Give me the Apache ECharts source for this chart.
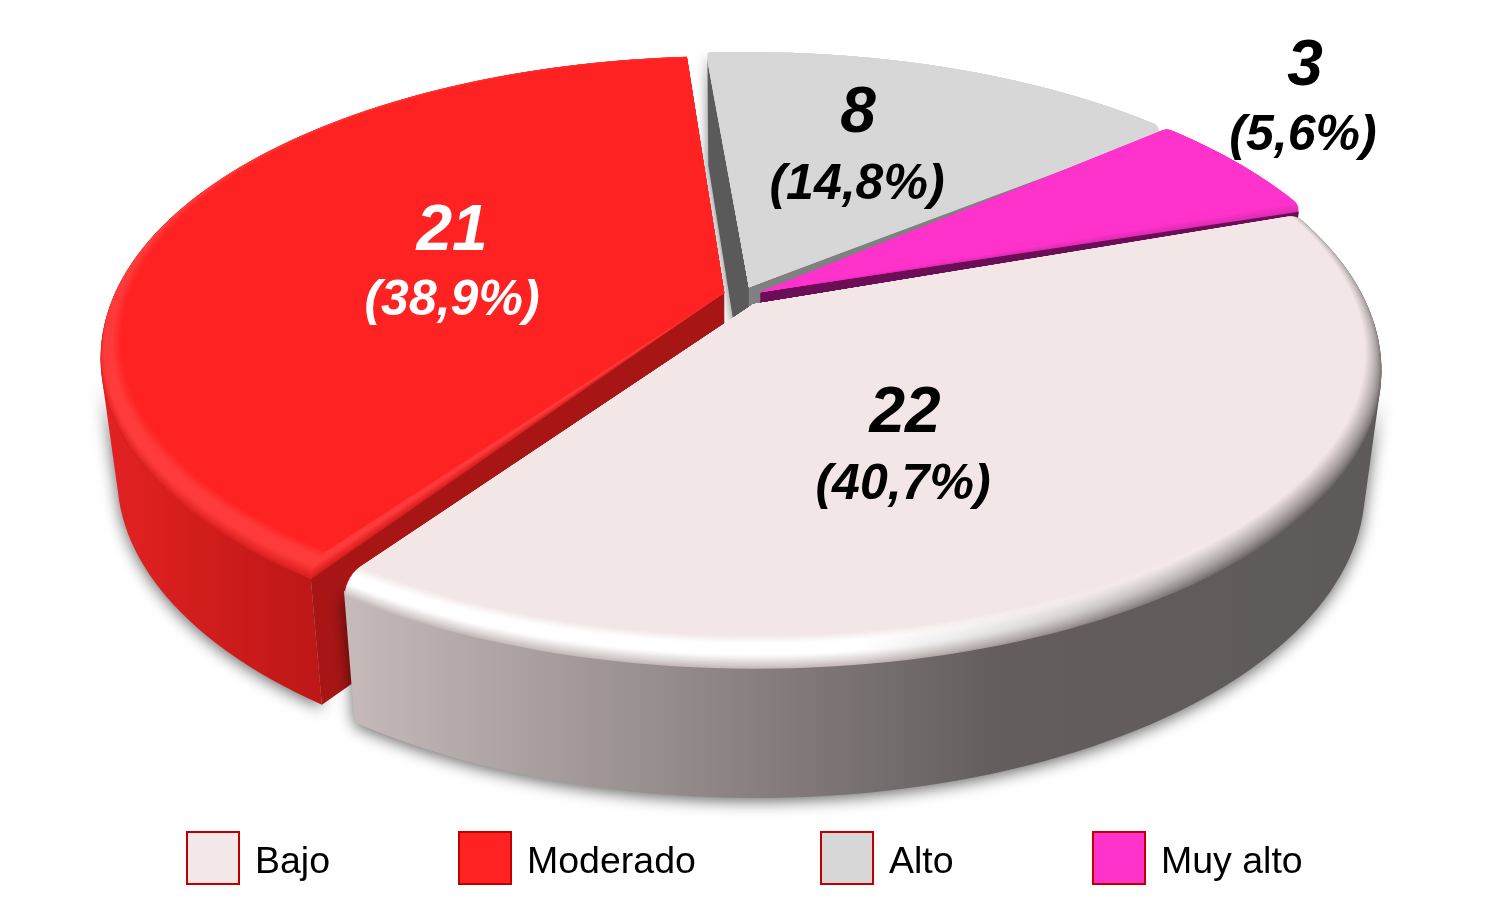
<!DOCTYPE html>
<html><head><meta charset="utf-8">
<style>html,body{margin:0;padding:0;background:#fff}#c{width:1508px;height:905px}</style>
<script src="https://cdn.jsdelivr.net/npm/echarts@6/dist/echarts.min.js"></script>
</head><body><div id="c"></div>
<script>
// ---- data ----
const categories = ['Bajo', 'Moderado', 'Alto', 'Muy alto'];
const counts = [22, 21, 8, 3];
const percents = ['(40,7%)', '(38,9%)', '(14,8%)', '(5,6%)'];

// ---- layout & style ----
const FONT = '"Liberation Sans", Arial, sans-serif';
const view = { cx: 742, cy: 295, A: 617, B: 284, D: 134, k: 0.17, shrink: 0.03, start: 68.9 };
const paint = [
  { z: 4, explode: 0.037, nudge: [-0.004, 0.003], trim: [1.6, 0.7], face: '#f3e6e6', wall: [[345, '#c6baba'], [1000, '#635d5d'], [1380, '#5f5a5a']],
    bevelL: ['#c6baba', '#ffffff'], bevelR: '#5f5a5a', swatch: '#f5e8e8', text: '#000',
    cuts: {}, label: [905, 414, 903, 485] },
  { z: 3, explode: 0.03, nudge: [0, 0], trim: [-0.4, 0], face: '#ff2222', wall: [[100, '#e42222'], [340, '#b91616']],
    bevelL: ['#d81e1e', '#ff3b3b'], bevelR: null, swatch: '#ff2222', text: '#fff',
    cuts: { a0: '#a81515' }, label: [452, 232, 452, 301] },
  { z: 1, explode: 0.03, nudge: [0, 0], trim: [0, 0.5], face: '#d7d7d7', wall: [[700, '#999'], [1160, '#888']],
    bevelL: ['#d7d7d7', '#d7d7d7'], bevelR: null, swatch: '#d7d7d7', text: '#000',
    cuts: { a0: '#5a5a5a', a1: '#808080' }, label: [858, 114, 857, 185] },
  { z: 2, explode: 0.03, nudge: [0.004, 0.006], trim: [0, 0], face: '#ff33cc', wall: [[1160, '#8c1a70'], [1300, '#6a0f55']],
    bevelL: ['#e02cb4', '#ff33cc'], bevelR: null, swatch: '#ff33cc', text: '#000',
    cuts: { a1: '#6a0f55' }, label: [1305, 67, 1303, 136] }
];
const legendSlots = [186, 458, 820, 1092];

const total = counts.reduce((a, b) => a + b, 0);
const spans = [];
let cursor = view.start;
counts.forEach(c => { const s = c / total * 360; spans.push([cursor, cursor + s]); cursor += s; });

function hex(c) {
  let h = c.slice(1);
  if (h.length === 3) h = h.split('').map(x => x + x).join('');
  return [0, 2, 4].map(i => parseInt(h.substr(i, 2), 16));
}
function mix(a, b, t) {
  const x = hex(a), y = hex(b);
  return 'rgb(' + x.map((v, i) => Math.round(v + (y[i] - v) * t)).join(',') + ')';
}
function project(ou, ov, deg, r, z) {
  const th = deg * Math.PI / 180;
  const u = ou + r * Math.sin(th), v = ov - r * Math.cos(th);
  const w = (1 - view.k * v) * (1 + view.shrink * z);
  return [view.cx + view.A * u / w, view.cy + (view.B * v + view.D * z) / w];
}
function arc(ou, ov, a0, a1, r, z) {
  const n = Math.max(8, Math.round((a1 - a0) / 1.5)), out = [];
  for (let i = 0; i <= n; i++) out.push(project(ou, ov, a0 + (a1 - a0) * i / n, r, z));
  return out;
}
function xGrad(stops) {
  const x0 = stops[0][0], x1 = stops[stops.length - 1][0];
  return { type: 'linear', x: x0, y: 0, x2: x1, y2: 0, global: true,
    colorStops: stops.map(s => ({ offset: (s[0] - x0) / (x1 - x0), color: s[1] })) };
}
// outline of the part of the outer wall that faces the viewer
function frontWall(top, bottom) {
  const keepTop = [], keepBottom = [];
  for (let i = 0; i < top.length - 1; i++) {
    const dx = top[i + 1][0] - top[i][0], dy = top[i + 1][1] - top[i][1];
    const gx = bottom[i][0] - top[i][0], gy = bottom[i][1] - top[i][1];
    if (dx * gy - dy * gx < 0) {
      if (!keepTop.length) { keepTop.push(top[i]); keepBottom.push(bottom[i]); }
      keepTop.push(top[i + 1]); keepBottom.push(bottom[i + 1]);
    }
  }
  return keepTop.concat(keepBottom.reverse());
}

function sliceRenderer(idx) {
  return function (params, api) {
    const value = api.value(0);
    const p = paint[idx];
    const a0 = spans[idx][0] + p.trim[0], a1 = spans[idx][1] - p.trim[1];
    const mid = (spans[idx][0] + spans[idx][1]) / 2 * Math.PI / 180;
    const ou = p.explode * Math.sin(mid) + p.nudge[0], ov = -p.explode * Math.cos(mid) + p.nudge[1];
    const R0 = 0.965, ZB = 0.12;
    const kids = [];
    const wallPts = frontWall(arc(ou, ov, a0, a1, 1, ZB * 0.7), arc(ou, ov, a0, a1, 1, 1));
    if (wallPts.length) {
      kids.push({ type: 'polygon', shape: { points: wallPts }, style: {
        fill: xGrad(p.wall), shadowBlur: 16, shadowColor: 'rgba(0,0,0,0.6)', shadowOffsetX: 0, shadowOffsetY: 3 } });
    }
    const apexT = project(ou, ov, 0, 0, 0), apexB = project(ou, ov, 0, 0, 1);
    [['a0', a0], ['a1', a1]].forEach(([key, ang]) => {
      if (!p.cuts[key]) return;
      const pts = [apexT, project(ou, ov, ang, R0, 0), project(ou, ov, ang, 1, ZB), project(ou, ov, ang, 1, 1), apexB];
      kids.push({ type: 'polygon', shape: { points: pts }, style: {
        fill: p.cuts[key], shadowBlur: key === 'a0' && idx === 2 ? 12 : 0, shadowColor: 'rgba(0,0,0,0.55)' } });
    });
    const N = 24;
    for (let i = 0; i <= N; i++) {
      const t = i / N, phi = t * Math.PI / 2;
      const r = R0 + (1 - R0) * Math.cos(phi), z = ZB * (1 - Math.sin(phi));
      const L = t < 0.4 ? mix(p.bevelL[0], p.bevelL[1], t / 0.4)
        : (t < 0.7 ? p.bevelL[1] : mix(p.bevelL[1], p.face, (t - 0.7) / 0.3));
      let fill = L;
      if (p.bevelR) {
        const Rc = mix(p.bevelR, p.face, Math.min(1, t * 1.15));
        fill = xGrad([[345, L], [860, L], [1300, Rc]]);
      }
      const pts = [apexT].concat(arc(ou, ov, a0, a1, r, z));
      kids.push({ type: 'polygon', shape: { points: pts }, style: { fill: fill } });
    }
    const l = p.label;
    kids.push({ type: 'text', style: { text: String(value), x: l[0], y: l[1], fill: p.text, textAlign: 'center', textVerticalAlign: 'middle',
      font: 'italic bold 64px ' + FONT } });
    kids.push({ type: 'text', style: { text: percents[idx], x: l[2], y: l[3], fill: p.text, textAlign: 'center', textVerticalAlign: 'middle',
      font: 'italic bold 50px ' + FONT } });
    return { type: 'group', children: kids };
  };
}

const chart = echarts.init(document.getElementById('c'), null, { renderer: 'canvas' });
chart.setOption({
  animation: false,
  backgroundColor: '#fff',
  legend: categories.map((name, i) => ({
    data: [name], left: legendSlots[i], top: 831, padding: 0, icon: 'rect', selectedMode: false,
    itemWidth: 52, itemHeight: 52,
    itemStyle: { borderColor: '#c00000', borderWidth: 2, color: paint[i].swatch },
    formatter: '{a|{name}}',
    textStyle: { rich: { a: { fontFamily: FONT, fontSize: 37.5, color: '#000', padding: [10, 0, 0, 11] } } }
  })),
  series: categories.map((name, i) => ({
    type: 'custom', name, coordinateSystem: 'none', z: paint[i].z, silent: true,
    itemStyle: { color: paint[i].swatch },
    data: [[counts[i]]],
    renderItem: sliceRenderer(i)
  }))
});
</script></body></html>
